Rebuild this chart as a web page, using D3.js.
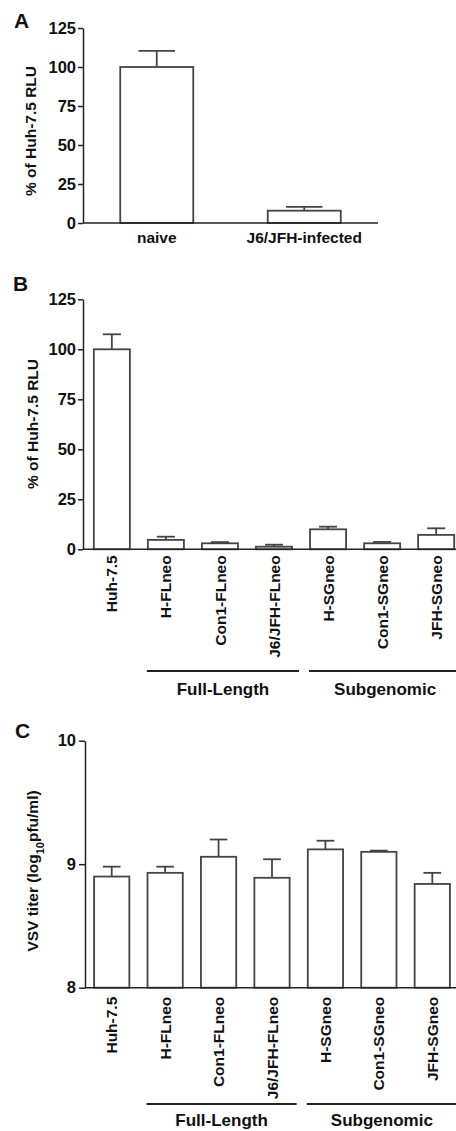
<!DOCTYPE html>
<html>
<head>
<meta charset="utf-8">
<script src="https://cdn.jsdelivr.net/npm/d3@7"></script>
<style>
  body { margin: 0; background: #fff; }
  text { font-family: "Liberation Sans", Arial, sans-serif; font-weight: bold; fill: #111; }
</style>
</head>
<body>
<svg id="chart" width="456" height="1131"></svg>
<script>
// panel A
const infectionLabels = ["naive", "J6/JFH-infected"];
const infectionValues = [100, 7.9];
const infectionErrors = [10.3, 2.5];

// panels B and C share the cell lines
const cellLines = ["Huh-7.5", "H-FLneo", "Con1-FLneo", "J6/JFH-FLneo", "H-SGneo", "Con1-SGneo", "JFH-SGneo"];
const rluValues = [100, 4.7, 3.0, 1.3, 10.0, 3.0, 7.2];
const rluErrors = [7.5, 1.6, 0.6, 1.0, 1.3, 0.7, 3.3];
const titerValues = [8.90, 8.93, 9.06, 8.89, 9.12, 9.10, 8.84];
const titerErrors = [0.08, 0.05, 0.14, 0.15, 0.07, 0.01, 0.09];

const groupNames = ["Full-Length", "Subgenomic"];
const groupMembers = [["H-FLneo", "Con1-FLneo", "J6/JFH-FLneo"], ["H-SGneo", "Con1-SGneo", "JFH-SGneo"]];

const rluTicks = [0, 25, 50, 75, 100, 125];
const titerTicks = [8, 9, 10];

const svg = d3.select("#chart");
const axisColor = "#222";
const barColor = "#444";

function drawPanel(p) {
  const g = svg.append("g");
  const x = d3.scaleBand().domain(p.labels).range(p.xRange)
    .paddingInner(p.padIn).paddingOuter(p.padOut);
  const y = d3.scaleLinear().domain(p.yDomain).range(p.yRange);
  const bw = x.bandwidth();

  // bars
  g.selectAll("rect.bar").data(p.labels).join("rect")
    .attr("x", d => x(d))
    .attr("y", (d, i) => y(p.values[i]))
    .attr("width", bw)
    .attr("height", (d, i) => y(p.yDomain[0]) - y(p.values[i]))
    .attr("fill", "#fff")
    .attr("stroke", barColor)
    .attr("stroke-width", 1.8);

  // upper error bars
  const err = g.selectAll("g.err").data(p.labels).join("g");
  err.append("line")
    .attr("x1", d => x(d) + bw / 2).attr("x2", d => x(d) + bw / 2)
    .attr("y1", (d, i) => y(p.values[i]))
    .attr("y2", (d, i) => y(p.values[i] + p.errors[i]))
    .attr("stroke", barColor).attr("stroke-width", 1.8);
  err.append("line")
    .attr("x1", d => x(d) + bw / 4).attr("x2", d => x(d) + bw * 3 / 4)
    .attr("y1", (d, i) => y(p.values[i] + p.errors[i]))
    .attr("y2", (d, i) => y(p.values[i] + p.errors[i]))
    .attr("stroke", barColor).attr("stroke-width", 1.8);

  // x axis line
  g.append("line")
    .attr("x1", p.xRange[0]).attr("x2", p.xEnd)
    .attr("y1", y(p.yDomain[0])).attr("y2", y(p.yDomain[0]))
    .attr("stroke", axisColor).attr("stroke-width", 1.5);

  // y axis
  const yAxis = g.append("g")
    .attr("transform", `translate(${p.xRange[0]},0)`)
    .call(d3.axisLeft(y).tickValues(p.ticks).tickFormat(d3.format("d"))
      .tickSize(p.tickSize).tickPadding(p.tickPad).tickSizeOuter(0));
  yAxis.selectAll("path, line").attr("stroke", axisColor).attr("stroke-width", 1.5);
  yAxis.selectAll("text")
    .attr("fill", "#111")
    .style("font-family", "'Liberation Sans', Arial, sans-serif")
    .style("font-weight", "bold")
    .style("font-size", "16.5px");

  // y axis title
  const title = g.append("text")
    .attr("transform", `translate(${p.titleX},${p.titleY}) rotate(-90)`)
    .attr("text-anchor", "middle")
    .attr("dy", "0.35em")
    .style("font-size", "15.5px");
  p.title(title);

  // category labels
  if (p.rotated) {
    g.selectAll("text.cat").data(p.labels).join("text")
      .attr("transform", d => `translate(${x(d) + bw / 2},${y(p.yDomain[0]) + p.labelGap}) rotate(-90)`)
      .attr("text-anchor", "end")
      .attr("dy", "0.36em")
      .style("font-size", "15.5px")
      .text(d => d);

    groupNames.forEach((name, k) => {
      const members = groupMembers[k];
      const x1 = x(members[0]) - 1;
      const x2 = x(members[members.length - 1]) + bw + 7;
      g.append("line")
        .attr("x1", x1).attr("x2", x2)
        .attr("y1", p.groupLineY).attr("y2", p.groupLineY)
        .attr("stroke", axisColor).attr("stroke-width", 1.8);
      g.append("text")
        .attr("x", (x1 + x2) / 2)
        .attr("y", p.groupTextY)
        .attr("text-anchor", "middle")
        .style("font-size", "17px")
        .text(name);
    });
  } else {
    g.selectAll("text.cat").data(p.labels).join("text")
      .attr("x", d => x(d) + bw / 2)
      .attr("y", p.labelY)
      .attr("text-anchor", "middle")
      .style("font-size", "15.5px")
      .text(d => d);
  }

  // panel letter
  g.append("text")
    .attr("x", p.letterX).attr("y", p.letterY)
    .style("font-size", "21px")
    .text(p.letter);
}

drawPanel({
  letter: "A", letterX: 14, letterY: 28,
  labels: infectionLabels, values: infectionValues, errors: infectionErrors,
  xRange: [83, 378], xEnd: 378, padIn: 0.505, padOut: 0.2525,
  yDomain: [0, 125], yRange: [223, 28], ticks: rluTicks, tickSize: 5, tickPad: 2,
  titleX: 31, titleY: 131,
  title: t => t.text("% of Huh-7.5 RLU"),
  rotated: false, labelY: 243
});

drawPanel({
  letter: "B", letterX: 13, letterY: 291,
  labels: cellLines, values: rluValues, errors: rluErrors,
  xRange: [83, 465], xEnd: 456, padIn: 0.333, padOut: 0.2,
  yDomain: [0, 125], yRange: [549.3, 299.3], ticks: rluTicks, tickSize: 5, tickPad: 2,
  titleX: 33, titleY: 424,
  title: t => t.text("% of Huh-7.5 RLU"),
  rotated: true, labelGap: 6, groupLineY: 671, groupTextY: 695
});

drawPanel({
  letter: "C", letterX: 15, letterY: 738,
  labels: cellLines, values: titerValues, errors: titerErrors,
  xRange: [85, 459], xEnd: 456, padIn: 0.34, padOut: 0.17,
  yDomain: [8, 10], yRange: [987.7, 740.7], ticks: titerTicks, tickSize: 6, tickPad: 3,
  titleX: 33, titleY: 871,
  title: t => {
    t.append("tspan").text("VSV titer (log");
    t.append("tspan").attr("baseline-shift", "sub").style("font-size", "11px").text("10");
    t.append("tspan").text("pfu/ml)");
  },
  rotated: true, labelGap: 9, groupLineY: 1104, groupTextY: 1126
});
</script>
</body>
</html>
